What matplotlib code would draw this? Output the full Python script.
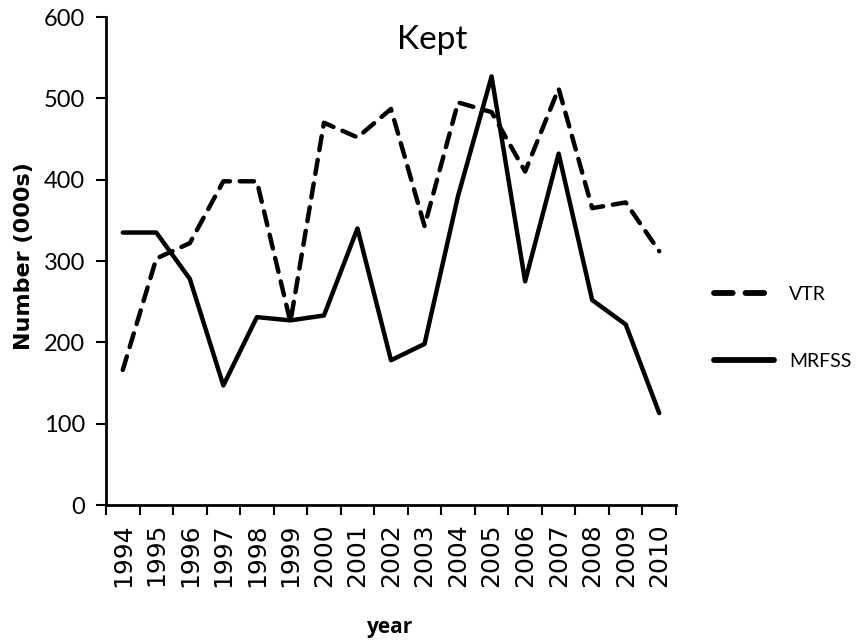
import matplotlib
matplotlib.use("Agg")
import matplotlib.pyplot as plt

years = [str(y) for y in range(1994, 2011)]
vtr = [166, 303, 322, 398, 398, 225, 470, 452, 487, 343, 495, 483, 410, 512, 365, 372, 312]
mrfss = [335, 335, 278, 147, 231, 227, 233, 340, 178, 198, 380, 527, 275, 432, 252, 222, 113]

fig = plt.figure(figsize=(8.56, 6.44), dpi=100)
ax = fig.add_axes([106/856, 1-505/644, 570/856, 488/644])

x = list(range(len(years)))
dash = (0, (3.2, 2.2))
ax.plot(x, vtr, color="black", lw=3.2, linestyle=dash, dash_capstyle="round", label="VTR")
ax.plot(x, mrfss, color="black", lw=3.2, solid_capstyle="round", label="MRFSS")

ax.set_xlim(-0.5, len(years) - 0.5)
ax.set_ylim(0, 600)
ax.set_yticks(range(0, 601, 100))
ax.set_xticks([i - 0.5 for i in range(len(years) + 1)], minor=False)
ax.set_xticklabels([])
ax.set_xticks(x, minor=True)
ax.set_xticklabels(years, minor=True, rotation=90, fontsize=18, family="DejaVu Sans")
ax.tick_params(axis="x", which="minor", length=0, pad=13)
ax.tick_params(axis="x", which="major", length=7, width=1.5, direction="out")
ax.tick_params(axis="y", length=7, width=1.5, direction="out", labelsize=17, pad=8)
for lab in ax.get_yticklabels():
    lab.set_family("Lato")

for s in ["top", "right"]:
    ax.spines[s].set_visible(False)
for s in ["left", "bottom"]:
    ax.spines[s].set_linewidth(2)

fig.text(24/856, 1-256/644, "Number (000s)", rotation=90, ha="center", va="center",
         fontsize=16, fontweight="bold", family="DejaVu Sans")
fig.text(390/856, 1-627/644, "year", ha="center", va="center",
         fontsize=15, fontweight="bold", family="Open Sans")
fig.text(432/856, 1-40/644, "Kept", ha="center", va="center", fontsize=24, family="Lato")

leg = fig.legend(loc="center left", bbox_to_anchor=(714/856, 1-328/644), frameon=False,
                 borderpad=0, borderaxespad=0,
                 handlelength=3.1, handletextpad=0.75, labelspacing=2.55,
                 prop={"family": "Lato", "size": 14})
for ln in leg.get_lines():
    ln.set_linewidth(4.2)

fig.savefig("out.png", dpi=100)
